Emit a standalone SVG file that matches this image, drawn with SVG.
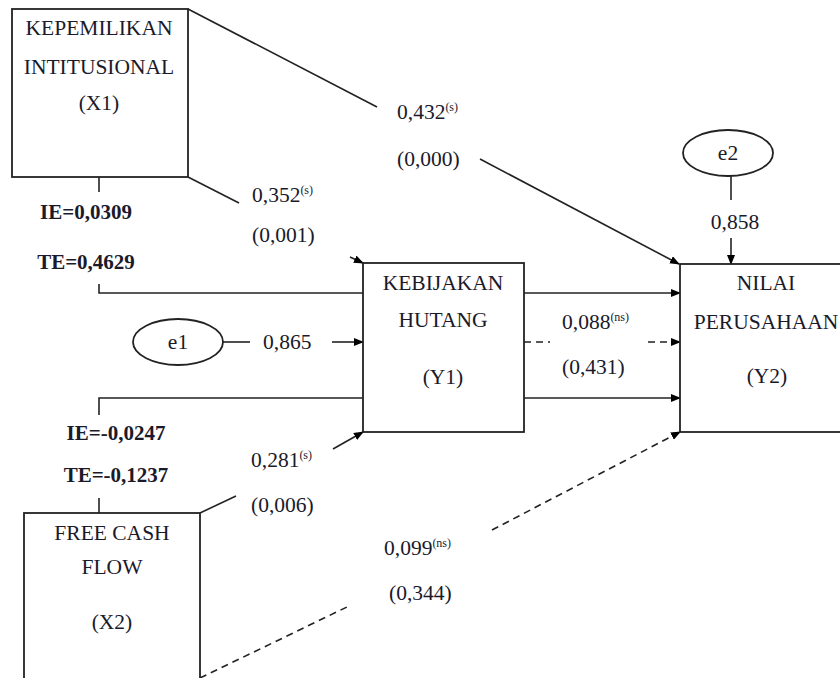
<svg xmlns="http://www.w3.org/2000/svg" width="840" height="678" viewBox="0 0 840 678">
<defs>
<marker id="ah" markerWidth="10" markerHeight="8" refX="9" refY="4" orient="auto" markerUnits="userSpaceOnUse">
<path d="M0,0 L10,4 L0,8 Z" fill="#000"/>
</marker>
<style>
.box{fill:#fff;stroke:#222;stroke-width:1.8}
.ln{fill:none;stroke:#222;stroke-width:1.6}
.ds{fill:none;stroke:#222;stroke-width:1.6;stroke-dasharray:7,5}
.t{font-family:'Liberation Serif','Tinos','DejaVu Serif',serif;font-size:21.5px;fill:#1a1a2a}
.c{text-anchor:middle}
.b{font-weight:bold;font-size:21px}
.sup{font-size:12px}
</style>
</defs>
<rect width="840" height="678" fill="#fff"/>
<g id="connectors">
<line class="ln" x1="188" y1="9" x2="377" y2="107"/>
<line class="ln" x1="480" y1="159" x2="679" y2="264" marker-end="url(#ah)"/>
<line class="ln" x1="188" y1="177" x2="239" y2="203"/>
<line class="ln" x1="350" y1="257" x2="363" y2="263" marker-end="url(#ah)"/>
<line class="ln" x1="99" y1="177" x2="99" y2="192"/>
<polyline class="ln" points="99,284 99,293 363,293"/>
<line class="ln" x1="524" y1="293" x2="680" y2="293" marker-end="url(#ah)"/>
<line class="ln" x1="223" y1="342" x2="250" y2="342"/>
<line class="ln" x1="332" y1="342" x2="363" y2="342" marker-end="url(#ah)"/>
<line class="ds" x1="524" y1="342" x2="550" y2="342"/>
<line class="ds" x1="648" y1="342" x2="680" y2="342" marker-end="url(#ah)"/>
<polyline class="ln" points="99,415 99,398 363,398"/>
<line class="ln" x1="99" y1="498" x2="99" y2="513"/>
<line class="ln" x1="524" y1="398" x2="680" y2="398" marker-end="url(#ah)"/>
<line class="ln" x1="200" y1="513" x2="236" y2="496"/>
<line class="ln" x1="333" y1="449" x2="363" y2="432" marker-end="url(#ah)"/>
<line class="ds" x1="200" y1="678" x2="347" y2="607"/>
<line class="ds" x1="492" y1="530" x2="680" y2="432" marker-end="url(#ah)"/>
<line class="ln" x1="731" y1="176" x2="731" y2="200"/>
<line class="ln" x1="731" y1="238" x2="731" y2="264" marker-end="url(#ah)"/>
</g>
<g id="X1">
<rect class="box" x="12" y="9" width="176" height="168"/>
<text class="t c" x="99" y="35">KEPEMILIKAN</text>
<text class="t c" x="99" y="74">INTITUSIONAL</text>
<text class="t c" x="99" y="110">(X1)</text>
</g>
<g id="X2">
<rect class="box" x="24" y="513" width="176" height="180"/>
<text class="t c" x="112" y="540">FREE CASH</text>
<text class="t c" x="112" y="574">FLOW</text>
<text class="t c" x="112" y="629">(X2)</text>
</g>
<g id="Y1">
<rect class="box" x="363" y="263" width="161" height="169"/>
<text class="t c" x="443" y="290">KEBIJAKAN</text>
<text class="t c" x="443" y="327">HUTANG</text>
<text class="t c" x="443" y="384">(Y1)</text>
</g>
<g id="Y2">
<rect class="box" x="680" y="264" width="180" height="168"/>
<text class="t c" x="766" y="290">NILAI</text>
<text class="t c" x="766" y="329">PERUSAHAAN</text>
<text class="t c" x="767" y="383">(Y2)</text>
</g>
<g id="e1">
<ellipse class="box" cx="178" cy="342" rx="45" ry="23"/>
<text class="t c" x="178" y="349">e1</text>
</g>
<g id="e2">
<ellipse class="box" cx="728" cy="153" rx="45" ry="23"/>
<text class="t c" x="728" y="160">e2</text>
</g>
<g id="labels">
<text class="t" x="397" y="119">0,432<tspan class="sup" dy="-8">(s)</tspan></text>
<text class="t" x="397" y="166">(0,000)</text>
<text class="t" x="252" y="202">0,352<tspan class="sup" dy="-8">(s)</tspan></text>
<text class="t" x="252" y="242">(0,001)</text>
<text class="t b c" x="86" y="219">IE=0,0309</text>
<text class="t b c" x="86" y="269">TE=0,4629</text>
<text class="t" x="263" y="349">0,865</text>
<text class="t" x="562" y="329">0,088<tspan class="sup" dy="-8">(ns)</tspan></text>
<text class="t" x="562" y="374">(0,431)</text>
<text class="t c" x="735" y="229">0,858</text>
<text class="t b c" x="116" y="440">IE=-0,0247</text>
<text class="t b c" x="116" y="482">TE=-0,1237</text>
<text class="t" x="251" y="467">0,281<tspan class="sup" dy="-8">(s)</tspan></text>
<text class="t" x="251" y="512">(0,006)</text>
<text class="t" x="384" y="555">0,099<tspan class="sup" dy="-8">(ns)</tspan></text>
<text class="t" x="389" y="600">(0,344)</text>
</g>
</svg>
